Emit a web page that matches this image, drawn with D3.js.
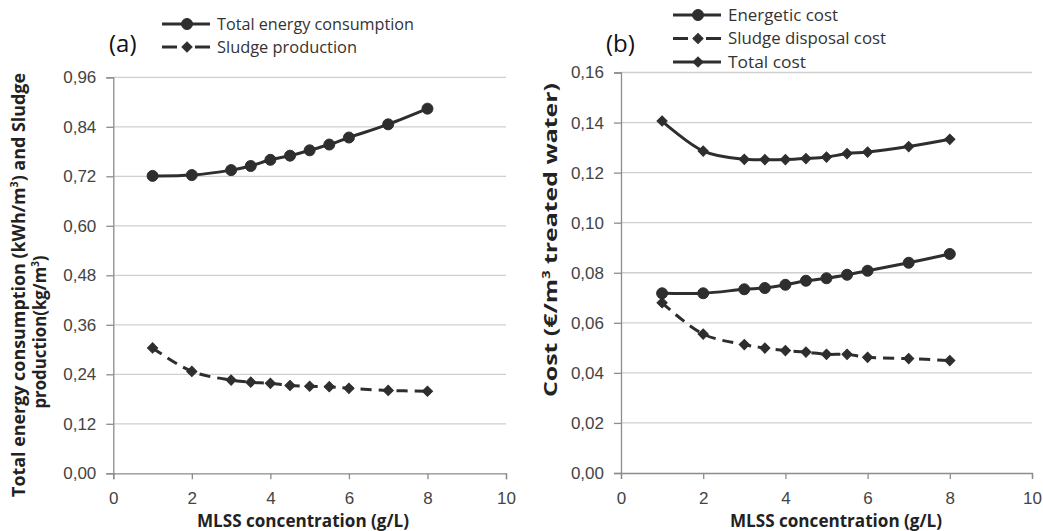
<!DOCTYPE html>
<html>
<head>
<meta charset="utf-8">
<script src="https://cdn.jsdelivr.net/npm/d3@7"></script>
<style>
  body { margin: 0; background: #fff; }
  svg { display: block; font-family: "Open Sans", sans-serif; }
  .tick text { fill: #444; font-size: 17px; }
  .domain { stroke: #8c8c8c; stroke-width: 1.3px; }
  .tick line { stroke: #8c8c8c; stroke-width: 1.3px; }
  .grid line { stroke: #cfcfcf; stroke-width: 1.3px; }
  .series { fill: none; stroke: #2e2e2e; stroke-width: 3px; }
  .marker { fill: #2e2e2e; stroke: #2e2e2e; stroke-width: 1px; }
  .legend text { fill: #333; font-size: 16px; }
  .title { fill: #222; font-weight: bold; }
</style>
</head>
<body>
<div class="chart"></div>
<script>
// data
const mlss = [1, 2, 3, 3.5, 4, 4.5, 5, 5.5, 6, 7, 8];

// panel (a)
const energyConsumption = [0.721, 0.723, 0.735, 0.745, 0.760, 0.770, 0.783, 0.797, 0.814, 0.846, 0.884];
const sludgeProduction = [0.304, 0.247, 0.226, 0.221, 0.218, 0.213, 0.211, 0.210, 0.206, 0.201, 0.199];

// panel (b)
const energeticCost = [0.0718, 0.0718, 0.0734, 0.0739, 0.0752, 0.0768, 0.0778, 0.0792, 0.0808, 0.0840, 0.0875];
const sludgeDisposalCost = [0.0680, 0.0555, 0.0513, 0.0499, 0.0489, 0.0483, 0.0474, 0.0474, 0.0462, 0.0457, 0.0449];
const totalCost = [0.1406, 0.1286, 0.1253, 0.1252, 0.1252, 0.1256, 0.1262, 0.1276, 0.1282, 0.1304, 0.1333];

const xTicks = [0, 2, 4, 6, 8, 10];
const yTicksA = [0, 0.12, 0.24, 0.36, 0.48, 0.60, 0.72, 0.84, 0.96];
const yTicksB = [0, 0.02, 0.04, 0.06, 0.08, 0.10, 0.12, 0.14, 0.16];

const width = 1043, height = 531;

const svg = d3.select('.chart')
  .append('svg')
  .attr('width', width)
  .attr('height', height);

const comma = d => d3.format('.2f')(d).replace('.', ',');

// excel style diamond: square turned 45deg
const diamondPath = d3.symbol().type(d3.symbolSquare).size(52)();
const circlePath = d3.symbol().type(d3.symbolCircle).size(95)();

function drawPanel(opts) {
  const x = d3.scaleLinear().domain([0, 10]).range(opts.xRange);
  const y = d3.scaleLinear().domain([0, opts.yTicks[opts.yTicks.length - 1]]).range(opts.yRange);

  const g = svg.append('g');

  // gridlines
  g.append('g').attr('class', 'grid')
    .selectAll('line')
    .data(opts.yTicks.slice(1))
    .enter()
    .append('line')
    .attr('x1', opts.xRange[0])
    .attr('x2', opts.xRange[1])
    .attr('y1', d => y(d))
    .attr('y2', d => y(d));

  g.append('g')
    .attr('transform', 'translate(' + opts.xRange[0] + ',0)')
    .call(d3.axisLeft(y).tickValues(opts.yTicks).tickFormat(comma).tickSizeOuter(0).tickSize(7).tickPadding(10));

  g.append('g')
    .attr('transform', 'translate(0,' + opts.yRange[0] + ')')
    .call(d3.axisBottom(x).tickValues(xTicks).tickFormat(d3.format('d')).tickSizeOuter(0).tickSize(6).tickPadding(13));

  opts.series.forEach(s => {
    const line = d3.line()
      .x((d, i) => x(mlss[i]))
      .y(d => y(d))
      .curve(d3.curveCatmullRom.alpha(0.5));

    g.append('path')
      .datum(s.values)
      .attr('class', 'series')
      .attr('d', line)
      .attr('stroke-dasharray', s.dashed ? '11,7' : null);

    g.append('g')
      .selectAll('path')
      .data(s.values)
      .enter()
      .append('path')
      .attr('class', 'marker')
      .attr('d', s.marker == 'circle' ? circlePath : diamondPath)
      .attr('transform', (d, i) => 'translate(' + x(mlss[i]) + ',' + y(d) + ')' + (s.marker == 'circle' ? '' : ' rotate(45)'));
  });

  // legend
  const leg = g.append('g').attr('class', 'legend');
  opts.series.forEach((s, i) => {
    const ly = opts.legend.y + i * opts.legend.step;
    const lx = opts.legend.x;
    const row = leg.append('g').attr('transform', 'translate(' + lx + ',' + ly + ')');
    if (s.dashed) {
      row.append('line').attr('class', 'series').attr('x1', 0).attr('x2', 15).attr('y1', 0).attr('y2', 0);
      row.append('line').attr('class', 'series').attr('x1', 33).attr('x2', 48).attr('y1', 0).attr('y2', 0);
    } else {
      row.append('line').attr('class', 'series').attr('x1', 0).attr('x2', 48).attr('y1', 0).attr('y2', 0);
    }
    row.append('path')
      .attr('class', 'marker')
      .attr('d', s.marker == 'circle' ? circlePath : diamondPath)
      .attr('transform', 'translate(25,0)' + (s.marker == 'circle' ? '' : ' rotate(45)'));
    row.append('text')
      .attr('x', 55)
      .attr('y', 5.5)
      .attr('textLength', s.labelWidth)
      .attr('lengthAdjust', 'spacingAndGlyphs')
      .text(s.name);
  });

  // panel letter
  g.append('text')
    .attr('x', opts.letter[0])
    .attr('y', opts.letter[1])
    .style('font-size', '24px')
    .style('fill', '#111')
    .text(opts.letterText);

  // x title
  g.append('text')
    .attr('class', 'title')
    .attr('x', opts.xTitleX)
    .attr('y', 527)
    .attr('text-anchor', 'middle')
    .attr('textLength', 212)
    .attr('lengthAdjust', 'spacingAndGlyphs')
    .style('font-size', '18px')
    .text('MLSS concentration (g/L)');

  // y title lines
  opts.yTitle.forEach(t => {
    const tx = g.append('text')
      .attr('class', 'title')
      .attr('transform', 'translate(' + t.x + ',' + t.y + ') rotate(-90)')
      .attr('text-anchor', 'middle')
      .attr('textLength', t.len)
      .attr('lengthAdjust', 'spacingAndGlyphs')
      .style('font-size', '17px');
    t.parts.forEach(p => {
      tx.append('tspan')
        .attr('baseline-shift', p.sup ? 'super' : null)
        .style('font-size', p.sup ? '10px' : null)
        .text(p.t);
    });
  });
}

drawPanel({
  xRange: [113.3, 506],
  yRange: [473.3, 77.3],
  yTicks: yTicksA,
  series: [
    { name: 'Total energy consumption', values: energyConsumption, marker: 'circle', dashed: false, labelWidth: 197 },
    { name: 'Sludge production', values: sludgeProduction, marker: 'diamond', dashed: true, labelWidth: 140 }
  ],
  legend: { x: 162, y: 24, step: 23 },
  letter: [109, 52],
  letterText: '(a)',
  xTitleX: 303,
  yTitle: [
    { x: 25, y: 285, len: 424, parts: [{ t: 'Total energy consumption (kWh/m' }, { t: '3', sup: true }, { t: ') and Sludge' }] },
    { x: 46, y: 332, len: 153, parts: [{ t: 'production(kg/m' }, { t: '3', sup: true }, { t: ')' }] }
  ]
});

drawPanel({
  xRange: [621, 1032],
  yRange: [473, 72.5],
  yTicks: yTicksB,
  series: [
    { name: 'Energetic cost', values: energeticCost, marker: 'circle', dashed: false, labelWidth: 110 },
    { name: 'Sludge disposal cost', values: sludgeDisposalCost, marker: 'diamond', dashed: true, labelWidth: 158 },
    { name: 'Total cost', values: totalCost, marker: 'diamond', dashed: false, labelWidth: 78 }
  ],
  legend: { x: 673, y: 15, step: 23.5 },
  letter: [606, 52],
  letterText: '(b)',
  xTitleX: 836,
  yTitle: [
    { x: 557, y: 240, len: 314, parts: [{ t: 'Cost (€/m' }, { t: '3', sup: true }, { t: ' treated water)' }] }
  ]
});
</script>
</body>
</html>
